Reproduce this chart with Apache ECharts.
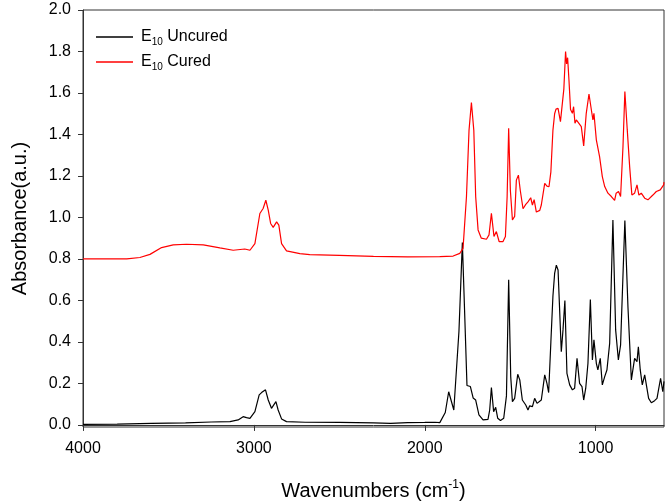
<!DOCTYPE html>
<html lang="en">

<head>
  <meta charset="UTF-8">
  <title>FTIR E10</title>
  <style>
    html, body { margin: 0; padding: 0; background: #fff; }
    #main { width: 668px; height: 501px; }
  </style>
</head>

<body>
  <div id="main"></div>
  <script src="https://cdn.jsdelivr.net/npm/echarts@6/dist/echarts.min.js"></script>
  <script>
    const myChart = echarts.init(document.getElementById('main'));

    // tick labels
    const xTicks = [4000, 3000, 2000, 1000];
    const yTicks = [0, 0.2, 0.4, 0.6, 0.8, 1.0, 1.2, 1.4, 1.6, 1.8, 2.0];

    // E10 Uncured (wavenumber, absorbance)
    const uncuredWave = [4000, 3800, 3600, 3400, 3250, 3140, 3092, 3063, 3043, 3023, 2994, 2969, 2955, 2946, 2932, 2916, 2897, 2887, 2871, 2858, 2838, 2809, 2700, 2500, 2300, 2200, 2100, 2000, 1940, 1912, 1880, 1860, 1830, 1800, 1780, 1765, 1753, 1733, 1717, 1702, 1683, 1659, 1630, 1620, 1610, 1597, 1585, 1573, 1557, 1538, 1522, 1509, 1497, 1487, 1474, 1456, 1444, 1429, 1409, 1396, 1386, 1370, 1357, 1343, 1318, 1298, 1285, 1275, 1262, 1250, 1240, 1230, 1220, 1201, 1191, 1180, 1168, 1152, 1136, 1123, 1109, 1094, 1080, 1070, 1058, 1045, 1031, 1019, 1010, 996, 987, 973, 961, 947, 934, 918, 899, 883, 867, 854, 844, 829, 811, 791, 772, 758, 750, 739, 727, 713, 704, 690, 674, 655, 641, 632, 620, 607, 600];
    const uncuredAbs = [0.003, 0.004, 0.007, 0.010, 0.014, 0.016, 0.024, 0.040, 0.035, 0.032, 0.064, 0.145, 0.156, 0.152, 0.169, 0.120, 0.080, 0.088, 0.112, 0.072, 0.029, 0.016, 0.013, 0.012, 0.010, 0.007, 0.011, 0.012, 0.013, 0.011, 0.06, 0.16, 0.072, 0.45, 0.879, 0.50, 0.19, 0.185, 0.13, 0.12, 0.048, 0.024, 0.027, 0.072, 0.18, 0.064, 0.085, 0.032, 0.021, 0.032, 0.14, 0.70, 0.233, 0.112, 0.128, 0.244, 0.217, 0.12, 0.096, 0.072, 0.092, 0.088, 0.128, 0.104, 0.12, 0.241, 0.20, 0.156, 0.40, 0.62, 0.73, 0.77, 0.747, 0.353, 0.458, 0.60, 0.249, 0.193, 0.169, 0.177, 0.321, 0.20, 0.185, 0.12, 0.177, 0.297, 0.605, 0.313, 0.41, 0.297, 0.265, 0.321, 0.193, 0.233, 0.265, 0.393, 0.988, 0.458, 0.313, 0.386, 0.393, 0.985, 0.57, 0.217, 0.321, 0.305, 0.377, 0.265, 0.193, 0.241, 0.233, 0.128, 0.107, 0.117, 0.128, 0.12, 0.225, 0.16, 0.21];

    // E10 Cured
    const curedWave = [4000, 3744, 3667, 3608, 3540, 3472, 3394, 3296, 3199, 3121, 3053, 3023, 2994, 2965, 2946, 2930, 2916, 2902, 2887, 2867, 2854, 2838, 2809, 2731, 2673, 2500, 2300, 2100, 1912, 1834, 1795, 1776, 1756, 1741, 1727, 1713, 1702, 1688, 1669, 1639, 1624, 1610, 1595, 1581, 1565, 1542, 1528, 1518, 1509, 1499, 1487, 1474, 1464, 1452, 1441, 1425, 1409, 1396, 1380, 1370, 1360, 1347, 1327, 1318, 1298, 1285, 1273, 1262, 1250, 1240, 1232, 1220, 1206, 1195, 1186, 1176, 1170, 1164, 1156, 1147, 1136, 1129, 1121, 1113, 1098, 1084, 1070, 1055, 1039, 1025, 1016, 1010, 996, 977, 961, 947, 928, 908, 889, 880, 866, 854, 840, 829, 815, 801, 788, 772, 758, 747, 733, 713, 694, 665, 645, 622, 602, 600];
    const curedAbs = [0.800, 0.800, 0.807, 0.822, 0.855, 0.868, 0.871, 0.868, 0.853, 0.842, 0.848, 0.842, 0.874, 1.019, 1.043, 1.083, 1.035, 0.971, 0.952, 0.979, 0.963, 0.874, 0.839, 0.826, 0.821, 0.817, 0.812, 0.810, 0.811, 0.814, 0.827, 0.851, 1.10, 1.42, 1.554, 1.42, 1.10, 0.94, 0.90, 0.895, 0.916, 1.02, 0.908, 0.932, 0.884, 0.884, 0.908, 1.10, 1.43, 1.13, 0.988, 1.005, 1.18, 1.204, 1.13, 1.042, 1.063, 1.075, 1.095, 1.06, 1.086, 1.026, 1.034, 1.06, 1.164, 1.151, 1.148, 1.22, 1.42, 1.50, 1.522, 1.526, 1.462, 1.462, 1.62, 1.80, 1.74, 1.77, 1.66, 1.52, 1.502, 1.534, 1.454, 1.470, 1.454, 1.438, 1.345, 1.502, 1.595, 1.518, 1.47, 1.502, 1.374, 1.293, 1.197, 1.149, 1.117, 1.101, 1.082, 1.117, 1.125, 1.101, 1.342, 1.607, 1.422, 1.245, 1.108, 1.117, 1.157, 1.108, 1.117, 1.093, 1.085, 1.108, 1.125, 1.133, 1.157, 1.17];

    const pairs = (xs, ys) => xs.map((x, i) => [x, ys[i]]);
    const font = 'Liberation Sans, Arial, sans-serif';
    const axisColor = '#333';

    const option = {
      animation: false,
      grid: {
        left: 83, right: 4, top: 10, bottom: 74,
        outerBoundsMode: 'none',
        show: true, borderColor: axisColor, borderWidth: 1
      },
      legend: {
        orient: 'vertical',
        left: 96,
        top: 29,
        padding: 0,
        icon: 'rect',
        itemWidth: 37,
        itemHeight: 1.3,
        itemGap: 7,
        data: ['E10 Uncured', 'E10 Cured'],
        formatter: name => '{e|E}{s|10}{a|' + name.slice(3) + '}',
        textStyle: {
          rich: {
            e: { fontFamily: font, fontSize: 16, color: '#000', lineHeight: 20, padding: [0, 0, 0, 3] },
            a: { fontFamily: font, fontSize: 16, color: '#000', lineHeight: 20 },
            s: { fontFamily: font, fontSize: 10, color: '#000', lineHeight: 11, verticalAlign: 'bottom' }
          }
        }
      },
      xAxis: {
        type: 'value',
        min: 600,
        max: 4000,
        inverse: true,
        name: '{a|Wavenumbers (cm}{s|-1}{a|)}',
        nameLocation: 'middle',
        nameGap: 52,
        nameMoveOverlap: false,
        nameTextStyle: {
          rich: {
            a: { fontFamily: font, fontSize: 20, color: '#000', lineHeight: 24 },
            s: { fontFamily: font, fontSize: 12, color: '#000', lineHeight: 12, verticalAlign: 'top' }
          }
        },
        axisLine: { lineStyle: { color: axisColor } },
        axisTick: { length: 6, customValues: xTicks, lineStyle: { color: axisColor } },
        axisLabel: {
          customValues: xTicks, margin: 14, fontFamily: font, fontSize: 16, color: '#000',
          formatter: v => String(v)
        },
        splitLine: { show: false }
      },
      yAxis: {
        type: 'value',
        min: -0.01,
        max: 2.0,
        name: 'Absorbance(a.u.)',
        nameLocation: 'middle',
        nameGap: 53,
        nameMoveOverlap: false,
        nameTextStyle: { fontFamily: font, fontSize: 20, color: '#000' },
        axisLine: { show: true, lineStyle: { color: axisColor } },
        axisTick: { show: true, length: 5, customValues: yTicks, lineStyle: { color: axisColor } },
        axisLabel: {
          customValues: yTicks, margin: 12, fontFamily: font, fontSize: 16, color: '#000',
          formatter: v => v.toFixed(1)
        },
        splitLine: { show: false }
      },
      series: [
        {
          name: 'E10 Uncured',
          type: 'line',
          data: pairs(uncuredWave, uncuredAbs),
          symbol: 'none',
          color: '#000',
          lineStyle: { color: '#000', width: 1.2 }
        },
        {
          name: 'E10 Cured',
          type: 'line',
          data: pairs(curedWave, curedAbs),
          symbol: 'none',
          color: '#ff0000',
          lineStyle: { color: '#ff0000', width: 1.2 }
        }
      ]
    };

    myChart.setOption(option);
  </script>
</body>

</html>
